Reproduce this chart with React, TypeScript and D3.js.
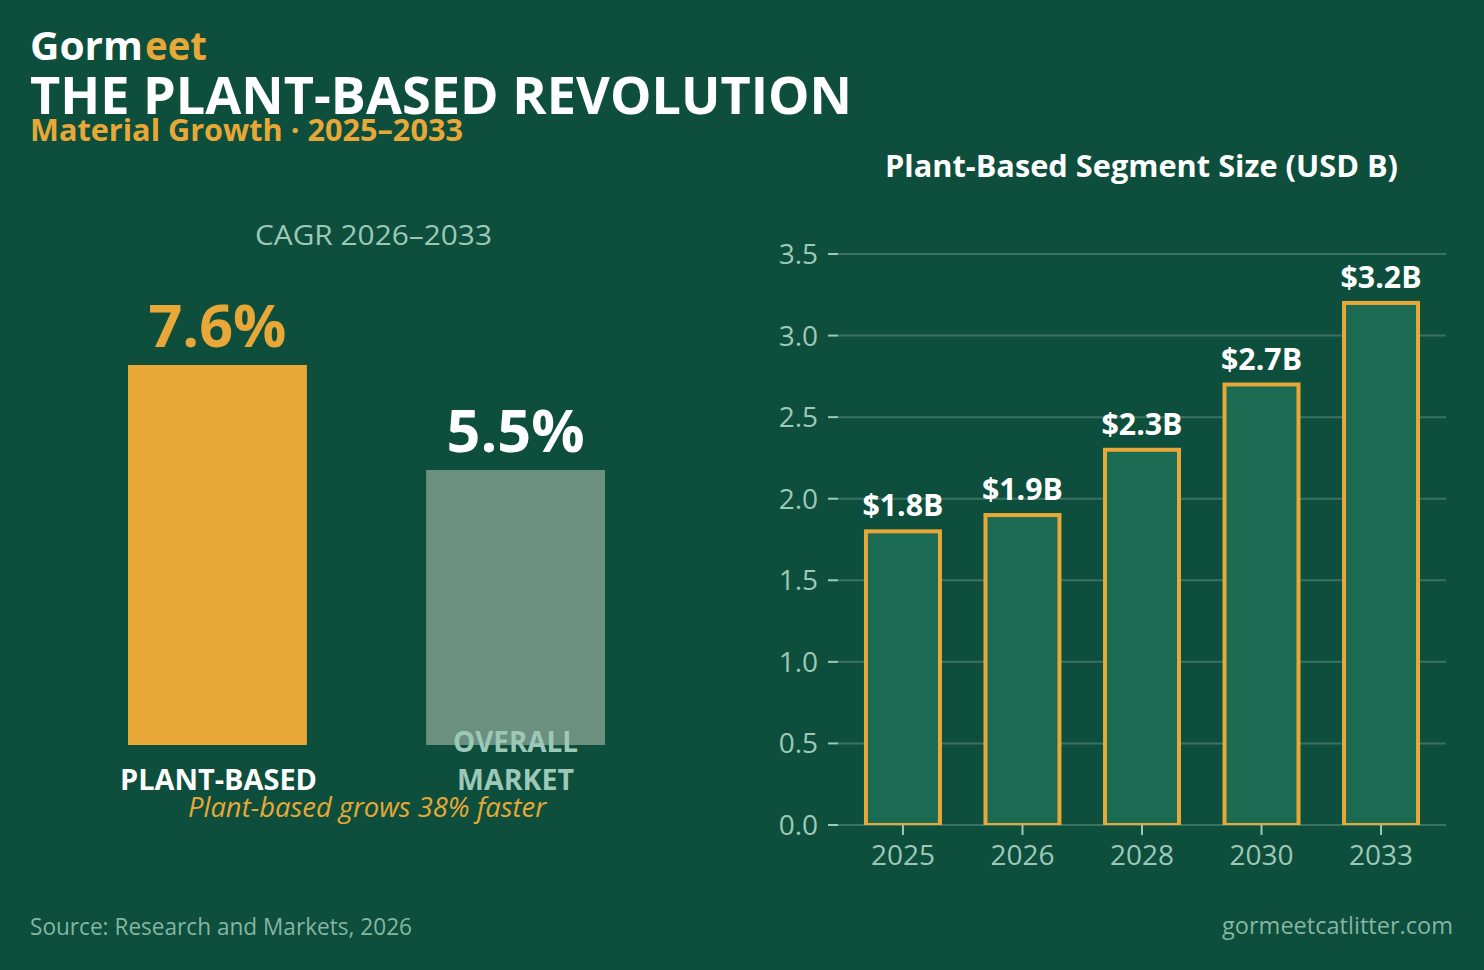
import React from "react";
import * as d3 from "d3";

const cagrLabels = ["PLANT-BASED", "OVERALL MARKET"];
const cagrValues = [7.6, 5.5];
const segmentYears = ["2025", "2026", "2028", "2030", "2033"];
const segmentValues = [1.8, 1.9, 2.3, 2.7, 3.2];
const segmentTicks = [0, 0.5, 1, 1.5, 2, 2.5, 3, 3.5];

const WIDTH = 1484;
const HEIGHT = 970;
const BG = "#0d4f3c";
const GOLD = "#e8a838";
const MUTED = "#9dc8b8";
const FONT = "'Open Sans', 'Noto Sans', sans-serif";

// left panel
const cagrX = d3.scaleBand<string>().domain(cagrLabels).range([128, 605]).paddingInner(0.4).paddingOuter(0);
const cagrY = d3.scaleLinear().domain([0, 7.6]).range([745, 365]);

// right panel
const segX = d3.scaleBand<string>().domain(segmentYears).range([838, 1446]).paddingInner(0.381).paddingOuter(0.234);
const segY = d3.scaleLinear().domain([0, 3.5]).range([825, 254]);

export default function App() {
  return (
    <svg
      width={WIDTH}
      height={HEIGHT}
      viewBox={`0 0 ${WIDTH} ${HEIGHT}`}
      style={{ position: "absolute", left: 0, top: 0, fontFamily: FONT }}
    >
      <defs>
        {/* bar outlines stop at the baseline */}
        <clipPath id="plot-clip">
          <rect x={838} y={200} width={608} height={625} />
        </clipPath>
      </defs>
      <rect width={WIDTH} height={HEIGHT} fill={BG} />

      {/* header */}
      <text x={30} y={60} fontSize={39} fontWeight={700} fill="#fff" textLength={113} lengthAdjust="spacingAndGlyphs">
        Gorm
      </text>
      <text x={145} y={60} fontSize={39} fontWeight={700} fill={GOLD} textLength={62} lengthAdjust="spacingAndGlyphs">
        eet
      </text>
      <text x={30} y={114} fontSize={52} fontWeight={700} fill="#fff" textLength={822} lengthAdjust="spacingAndGlyphs">
        THE PLANT-BASED REVOLUTION
      </text>
      <text x={30} y={141} fontSize={30} fontWeight={700} fill={GOLD} textLength={433} lengthAdjust="spacingAndGlyphs">
        Material Growth · 2025–2033
      </text>

      {/* CAGR panel */}
      <text x={373.5} y={245} fontSize={28} textAnchor="middle" fill={MUTED} textLength={237} lengthAdjust="spacingAndGlyphs">
        CAGR 2026–2033
      </text>
      {cagrLabels.map((label, i) => {
        const x = cagrX(label)!;
        const cx = x + cagrX.bandwidth() / 2;
        const v = cagrValues[i];
        return (
          <g key={label}>
            <rect
              x={x}
              y={cagrY(v)}
              width={cagrX.bandwidth()}
              height={cagrY(0) - cagrY(v)}
              fill={i === 0 ? GOLD : "#6b9080"}
            />
            <text x={cx} y={cagrY(v) - 18} fontSize={59} fontWeight={700} textAnchor="middle" fill={i === 0 ? GOLD : "#fff"} textLength={138} lengthAdjust="spacingAndGlyphs">
              {v}%
            </text>
          </g>
        );
      })}
      <text x={218.5} y={790} fontSize={28} fontWeight={700} textAnchor="middle" fill="#fff" textLength={197} lengthAdjust="spacingAndGlyphs">PLANT-BASED</text>
      <text x={515.5} y={752} fontSize={28} fontWeight={700} textAnchor="middle" fill={MUTED} textLength={125} lengthAdjust="spacingAndGlyphs">OVERALL</text>
      <text x={515.5} y={790} fontSize={28} fontWeight={700} textAnchor="middle" fill={MUTED} textLength={117} lengthAdjust="spacingAndGlyphs">MARKET</text>
      <text x={367} y={817} fontSize={27} fontStyle="italic" textAnchor="middle" fill={GOLD} textLength={358} lengthAdjust="spacingAndGlyphs">
        Plant-based grows 38% faster
      </text>

      {/* segment panel */}
      <text x={1141.5} y={177} fontSize={30} fontWeight={700} textAnchor="middle" fill="#fff" textLength={513} lengthAdjust="spacingAndGlyphs">
        Plant-Based Segment Size (USD B)
      </text>
      {segmentTicks.map((t) => (
        <g key={t} transform={`translate(0,${segY(t)})`}>
          <line x1={838} x2={1446} stroke="#ffffff" strokeOpacity={0.2} strokeWidth={2} />
          <line x1={828} x2={838} stroke={MUTED} strokeWidth={2} />
          <text x={818} y={10} fontSize={28} textAnchor="end" fill={MUTED}>
            {t.toFixed(1)}
          </text>
        </g>
      ))}
      {segmentYears.map((year, i) => {
        const x = segX(year)!;
        const cx = x + segX.bandwidth() / 2;
        const v = segmentValues[i];
        return (
          <g key={year}>
            <rect
              x={x}
              y={segY(v)}
              width={segX.bandwidth()}
              height={segY(0) - segY(v)}
              fill="#1a6b52"
              stroke={GOLD}
              strokeWidth={4}
              clipPath="url(#plot-clip)"
            />
            <line x1={cx} x2={cx} y1={825} y2={835} stroke={MUTED} strokeWidth={2} />
            <text x={cx} y={865} fontSize={28} textAnchor="middle" fill={MUTED}>
              {year}
            </text>
            <text x={cx} y={segY(v) - 15} fontSize={30} fontWeight={700} textAnchor="middle" fill="#fff" textLength={81} lengthAdjust="spacingAndGlyphs">
              ${v.toFixed(1)}B
            </text>
          </g>
        );
      })}

      {/* footer */}
      <text x={30} y={935} fontSize={23} fill={MUTED} fillOpacity={0.85} textLength={382} lengthAdjust="spacingAndGlyphs">
        Source: Research and Markets, 2026
      </text>
      <text x={1453} y={934} fontSize={24} textAnchor="end" fill={MUTED} fillOpacity={0.85} textLength={231} lengthAdjust="spacingAndGlyphs">
        gormeetcatlitter.com
      </text>
    </svg>
  );
}
